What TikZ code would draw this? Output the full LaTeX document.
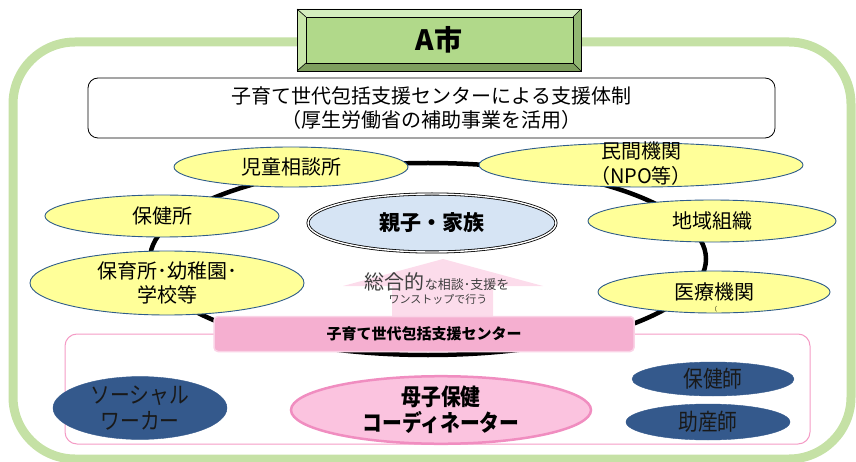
\documentclass[tikz,border=0pt]{standalone}
\usepackage{fontspec}
\usetikzlibrary{shapes.geometric}
\newfontfamily\jp{Noto Sans CJK JP}
\newcommand{\mycond}[1]{\scalebox{0.86}[1]{#1}}
\definecolor{outergreen}{HTML}{C5E1A5}
\definecolor{facegreen}{HTML}{B1D98A}
\definecolor{bevlight}{HTML}{D4EDBE}
\definecolor{bevleft}{HTML}{C8E6AA}
\definecolor{bevdark}{HTML}{7E9E5E}
\definecolor{bevright}{HTML}{93B873}
\definecolor{yel}{HTML}{FFFF99}
\definecolor{yelline}{HTML}{2E5C8A}
\definecolor{famfill}{HTML}{D6E4F4}
\definecolor{arrowpink}{HTML}{FCDCEB}
\definecolor{barpink}{HTML}{F5AFD0}
\definecolor{barborder}{HTML}{FAD3E6}
\definecolor{boxpink}{HTML}{F49BC5}
\definecolor{mcfill}{HTML}{FBC3DF}
\definecolor{mcline}{HTML}{F08DC0}
\definecolor{blueell}{HTML}{34598C}
\definecolor{txtgray}{HTML}{404040}
\tikzset{
  yellell/.style={ellipse, draw=yelline, line width=0.9pt, fill=yel, inner sep=0pt, align=center, font=\jp\fontsize{20}{24}\selectfont},
  blueel/.style={ellipse, draw=blueell, fill=blueell, inner sep=0pt, align=center, text=black!90, font=\jp\fontsize{23}{26}\selectfont},
}
\begin{document}
\begin{tikzpicture}[x=1pt,y=-1pt]
\useasboundingbox (0,0) rectangle (856,462);
% outer green frame
\draw[line width=9pt, outergreen, rounded corners=62pt] (13,42) rectangle (851,459);
% A-city bevel box
\fill[bevlight] (297,9) -- (581,9) -- (573,17) -- (306,17) -- cycle;
\fill[bevleft] (297,9) -- (306,17) -- (306,63) -- (297,71) -- cycle;
\fill[bevdark] (297,71) -- (306,63) -- (573,63) -- (581,71) -- cycle;
\fill[bevright] (581,9) -- (573,17) -- (573,63) -- (581,71) -- cycle;
\fill[facegreen] (306,17) rectangle (573,63);
\draw[black, line width=0.9pt] (297,9) rectangle (581,71);
\draw[black, line width=0.7pt] (306,17) rectangle (573,63);
\draw[black, line width=0.6pt] (297,9) -- (306,17) (581,9) -- (573,17) (297,71) -- (306,63) (581,71) -- (573,63);
\node[font=\jp\bfseries\fontsize{28}{30}\selectfont] (city) at (439,40) {A市};
% title box
\node[draw, line width=0.8pt, rounded corners=10pt, fill=white, minimum width=687pt, minimum height=60pt, inner sep=0pt, align=center, font=\jp\fontsize{20}{24}\selectfont] (title) at (431.5,108) {子育て世代包括支援センターによる支援体制\\（厚生労働省の補助事業を活用）};
% lower pink box
\draw[boxpink, line width=1pt, rounded corners=12pt] (65,334) rectangle (810,444);
% ring
\node[draw, line width=4.5pt, ellipse, minimum width=556pt, minimum height=192pt, inner sep=0pt] (ring) at (428,259) {};
% surrounding organisations
\node[yellell, minimum width=234pt, minimum height=40pt] (jido) at (291,167) {児童相談所};
\node[yellell, minimum width=234pt, minimum height=42pt] (hoken) at (162,216) {保健所};
\node[yellell, minimum width=274pt, minimum height=64pt] (hoiku) at (167,283) {保育所･幼稚園･\\学校等};
\node[yellell, minimum width=324pt, minimum height=44pt] (minkan) at (641,165) {};
\node[font=\jp\fontsize{20}{25}\selectfont, align=center] (minkantxt) at (641,164) {民間機関\\（NPO等）};
\node[yellell, minimum width=248pt, minimum height=42pt] (chiiki) at (712,221) {地域組織};
\node[yellell, minimum width=232pt, minimum height=42pt] (iryo) at (714,292) {医療機関};
\node[font=\jp\fontsize{6}{6}\selectfont, inner sep=0pt] (paren) at (714,309) {（};
% family
\node[ellipse, draw=black, double=white, double distance=1.4pt, line width=0.8pt, fill=famfill, minimum width=248pt, minimum height=58pt, inner sep=0pt, font=\jp\bfseries\fontsize{21}{24}\selectfont] (family) at (432,223) {親子・家族};
% upward arrow
\fill[arrowpink] (392,316) -- (392,286) -- (343,286) -- (443,259) -- (543,286) -- (493,286) -- (493,316) -- cycle;
\node[anchor=base, inner sep=0pt, text=txtgray] (sogo) at (437,289) {{\jp\fontsize{20}{20}\selectfont 総合的}{\jp\fontsize{13}{13}\selectfont な相談･支援を}};
\node[inner sep=0pt, text=txtgray, font=\jp\fontsize{11}{11}\selectfont] (onestop) at (438,299) {ワンストップで行う};
% center bar
\node[fill=barpink, draw=barborder, line width=1.5pt, rounded corners=4pt, minimum width=420pt, minimum height=35pt, inner sep=0pt, font=\jp\bfseries\fontsize{15}{15}\selectfont] (center) at (424,334) {子育て世代包括支援センター};
% staff
\node[blueel, minimum width=174pt, minimum height=60pt] (sw) at (140,408) {\mycond{ソーシャル}\\\mycond{ワーカー}};
\node[ellipse, draw=mcline, line width=2.5pt, fill=mcfill, minimum width=300pt, minimum height=55pt, inner sep=0pt, align=center, font=\jp\bfseries\fontsize{23}{26}\selectfont] (mc) at (441,410) {\mycond{母子保健}\\\mycond{コーディネーター}};
\node[blueel, minimum width=162pt, minimum height=34pt] (phn) at (713,379) {\mycond{保健師}};
\node[blueel, minimum width=164pt, minimum height=36pt] (mw) at (708,422) {\mycond{助産師}};
\end{tikzpicture}
\end{document}
